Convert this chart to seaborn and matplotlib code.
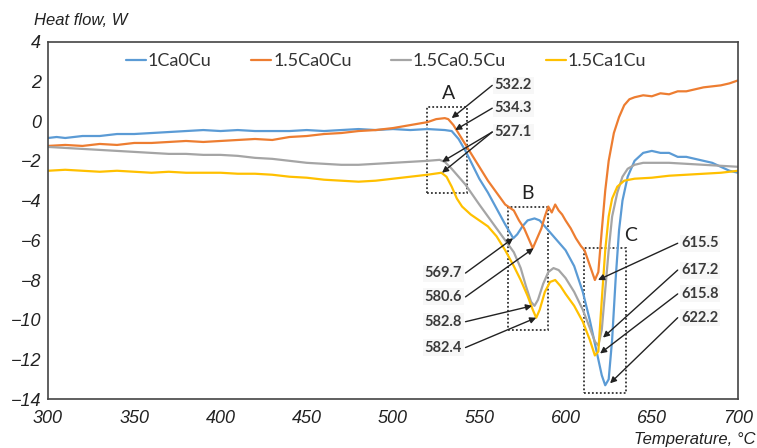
"""DSC heat flow curves for Ca/Cu alloyed samples."""

import matplotlib
matplotlib.use('Agg')
import matplotlib.pyplot as plt
import pandas as pd
import seaborn as sns
from matplotlib.patches import Rectangle

# --- data --------------------------------------------------------------------
temp_1ca0cu = [300, 305, 310, 320, 330, 340, 350, 360, 370, 380, 390, 400, 410, 420, 430,
               440, 450, 460, 470, 480, 490, 500, 510, 520, 530, 534, 538, 542, 546, 550,
               555, 560, 565, 569.7, 572, 575, 578, 582, 585, 588, 592, 596, 600, 605, 610,
               614, 618, 621, 623, 625, 627, 629, 631, 633, 636, 640, 645, 650, 655, 660,
               665, 670, 675, 680, 685, 690, 695, 700]
flow_1ca0cu = [-0.85, -0.8, -0.85, -0.75, -0.75, -0.65, -0.65, -0.6, -0.55, -0.5, -0.45, -0.5,
               -0.45, -0.5, -0.5, -0.5, -0.45, -0.5, -0.45, -0.4, -0.45, -0.4, -0.45, -0.4,
               -0.45, -0.5, -0.9, -1.5, -2.2, -2.9, -3.6, -4.4, -5.2, -5.9, -5.7, -5.3, -5.0,
               -4.9, -5.0, -5.3, -5.7, -6.1, -6.5, -7.3, -8.6, -10.0, -11.6, -12.8, -13.3,
               -13.0, -11.0, -8.0, -5.5, -4.0, -2.8, -2.0, -1.6, -1.5, -1.6, -1.6, -1.8, -1.8,
               -1.9, -2.0, -2.1, -2.3, -2.5, -2.6]

temp_15ca0cu = [300, 310, 320, 330, 340, 350, 360, 370, 380, 390, 400, 410, 420, 430, 440,
                450, 460, 470, 480, 490, 500, 510, 520, 525, 530, 532, 535, 540, 545, 550,
                555, 560, 565, 570, 573, 576, 579, 581, 583, 586, 588, 590, 592, 594, 596,
                598, 600, 603, 606, 609, 611, 613, 615, 617, 619, 621, 623, 625, 628, 631,
                634, 637, 640, 645, 650, 655, 660, 665, 670, 675, 680, 685, 690, 695, 700]
flow_15ca0cu = [-1.25, -1.2, -1.25, -1.15, -1.2, -1.1, -1.1, -1.05, -1.0, -1.05, -1.0, -0.95,
                -0.9, -0.95, -0.8, -0.75, -0.65, -0.6, -0.5, -0.45, -0.35, -0.2, -0.05, 0.1,
                0.15, 0.1, -0.2, -0.9, -1.6, -2.3, -3.0, -3.6, -4.2, -4.5, -5.0, -5.4, -6.0,
                -6.4, -6.0, -5.4, -4.8, -4.3, -4.6, -4.2, -4.5, -4.7, -5.0, -5.4, -5.9, -6.3,
                -6.5, -7.0, -7.5, -8.0, -7.6, -5.5, -3.5, -2.0, -0.6, 0.2, 0.8, 1.1, 1.2, 1.3,
                1.25, 1.4, 1.35, 1.5, 1.5, 1.6, 1.7, 1.75, 1.8, 1.9, 2.05]

temp_15ca05cu = [300, 310, 320, 330, 340, 350, 360, 370, 380, 390, 400, 410, 420, 430, 440,
                 450, 460, 470, 480, 490, 500, 510, 520, 527, 530, 534, 538, 542, 546, 550,
                 555, 560, 565, 570, 574, 577, 580, 582, 584, 587, 590, 593, 596, 600, 605,
                 610, 614, 617, 619, 621, 623, 625, 627, 630, 633, 636, 640, 645, 650, 660,
                 670, 680, 690, 700]
flow_15ca05cu = [-1.3, -1.35, -1.4, -1.45, -1.5, -1.55, -1.6, -1.65, -1.65, -1.7, -1.7, -1.75,
                 -1.85, -1.9, -2.0, -2.1, -2.15, -2.2, -2.2, -2.15, -2.1, -2.05, -2.0, -1.95,
                 -2.05, -2.4, -2.8, -3.2, -3.7, -4.2, -4.8, -5.4, -6.0, -6.6, -7.4, -8.3, -9.1,
                 -9.3, -9.0, -8.2, -7.6, -7.4, -7.5, -7.9, -8.6, -9.5, -10.4, -11.1, -11.3,
                 -10.5, -8.5, -6.5, -4.8, -3.6, -2.8, -2.4, -2.2, -2.1, -2.1, -2.1, -2.15, -2.2,
                 -2.25, -2.3]

temp_15ca1cu = [300, 310, 320, 330, 340, 350, 360, 370, 380, 390, 400, 410, 420, 430, 440,
                450, 460, 470, 480, 490, 500, 510, 520, 528, 531, 534, 537, 540, 545, 550,
                555, 560, 565, 570, 574, 578, 581, 583, 585, 588, 591, 594, 597, 600, 605,
                610, 614, 617, 619, 621, 623, 625, 627, 630, 634, 640, 650, 660, 670, 680,
                690, 700]
flow_15ca1cu = [-2.5, -2.45, -2.5, -2.55, -2.5, -2.55, -2.6, -2.55, -2.6, -2.6, -2.6, -2.65,
                -2.65, -2.7, -2.8, -2.85, -2.95, -3.0, -3.05, -3.0, -2.9, -2.8, -2.7, -2.6,
                -2.8, -3.3, -3.9, -4.3, -4.7, -5.0, -5.3, -5.8, -6.5, -7.3, -8.0, -8.8, -9.5,
                -9.9, -9.5, -8.6, -8.1, -8.0, -8.3, -8.7, -9.3, -10.1, -11.0, -11.8, -11.6,
                -9.0, -6.5, -4.8, -3.9, -3.3, -3.0, -2.9, -2.85, -2.75, -2.7, -2.65, -2.6, -2.5]

series_names = ["1Ca0Cu", "1.5Ca0Cu", "1.5Ca0.5Cu", "1.5Ca1Cu"]
series_colors = ["#5b9bd5", "#ed7d31", "#a5a5a5", "#ffc000"]

# peak labels: (text, text x, text y, [(arrow tip x, tip y), ...])
peak_labels_a = [("532.2", 559, 1.8, [(534, 0.15)]),
                 ("534.3", 559, 0.65, [(536, -0.45)]),
                 ("527.1", 559, -0.55, [(528.4, -2.05), (528.4, -2.6)])]
peak_labels_b = [("569.7", 540, -7.65, [(569.6, -5.9)]),
                 ("580.6", 540, -8.85, [(581.5, -6.4)]),
                 ("582.8", 540, -10.1, [(580.6, -9.3)]),
                 ("582.4", 540, -11.4, [(583, -9.9)])]
peak_labels_c = [("615.5", 667, -6.15, [(618.8, -8.0)]),
                 ("617.2", 667, -7.5, [(621.7, -10.9)]),
                 ("615.8", 667, -8.7, [(620, -11.7)]),
                 ("622.2", 667, -9.9, [(625.8, -13.2)])]

# dotted regions: (letter, x0, x1, y0, y1, letter x, letter y)
regions = [("A", 519.7, 543, -3.6, 0.7, 532, 1.4),
           ("B", 566.7, 590, -10.5, -4.3, 578, -3.65),
           ("C", 610.7, 635, -13.7, -6.4, 637.5, -5.75)]

# --- build table --------------------------------------------------------------
frames = []
for name, t, h in zip(series_names,
                      [temp_1ca0cu, temp_15ca0cu, temp_15ca05cu, temp_15ca1cu],
                      [flow_1ca0cu, flow_15ca0cu, flow_15ca05cu, flow_15ca1cu]):
    frames.append(pd.DataFrame({"temp": t, "flow": h, "sample": name}))
df = pd.concat(frames, ignore_index=True)

sns.set_theme(style="white")
plt.rcParams['font.family'] = ['Liberation Sans', 'DejaVu Sans']

fig = plt.figure(figsize=(7.57, 4.48), dpi=100)
ax = fig.add_axes([0.0634, 0.109, 0.9116, 0.798])

sns.lineplot(data=df, x="temp", y="flow", hue="sample", palette=series_colors,
             hue_order=series_names, estimator=None, linewidth=1.6, ax=ax)

ax.set_xlim(300, 700)
ax.set_ylim(-14, 4)
ax.set_xticks(range(300, 701, 50))
ax.set_yticks(range(-14, 5, 2))
ax.set_xlabel("")
ax.set_ylabel("")
for lab in ax.get_xticklabels() + ax.get_yticklabels():
    lab.set_fontstyle('italic')
ax.tick_params(direction='in', length=6, width=1.1, color='#333333',
               labelsize=13, labelcolor='#222222', pad=5)
ax.tick_params(axis='x', top=False, pad=8)
ax.tick_params(axis='y', right=False)
for sp in ax.spines.values():
    sp.set_color('#444444')
    sp.set_linewidth(1.2)

leg = ax.legend(loc='center', bbox_to_anchor=(0.49, 0.945), ncol=4, frameon=False,
                handlelength=1.1, handletextpad=0.1, columnspacing=2.2,
                prop={'family': 'Lato', 'size': 13})
for t in leg.get_texts():
    t.set_color('#333333')

# dotted boxes and letters
for letter, x0, x1, y0, y1, lx, ly in regions:
    ax.add_patch(Rectangle((x0, y0), x1 - x0, y1 - y0, fill=False,
                           linestyle=(0, (1, 1.2)), linewidth=1.3, edgecolor='#333333'))
    ax.text(lx, ly, letter, ha='center', va='center', fontsize=14,
            family='Lato', color='#222222')

# peak annotations
arrow = dict(arrowstyle='-|>', color='#222222', lw=1.0, mutation_scale=9,
             shrinkA=0, shrinkB=0)
for group, ha, dx in [(peak_labels_a, 'left', -1.5), (peak_labels_b, 'right', 2.0),
                      (peak_labels_c, 'left', -2.0)]:
    for text, tx, ty, tips in group:
        ax.text(tx, ty, text, ha=ha, va='center', fontsize=10.5, family='Lato',
                fontweight='bold', color='#3a3a3a',
                bbox=dict(boxstyle='square,pad=0.1', fc='#f7f7f7', ec='none'))
        for px, py in tips:
            ax.annotate("", xy=(px, py), xytext=(tx + dx, ty), arrowprops=arrow)

fig.text(0.045, 0.955, "Heat flow, W", fontsize=12, fontstyle='italic',
         color='#222222', ha='left', va='center')
fig.text(0.998, 0.02, "Temperature, °C", fontsize=12, fontstyle='italic',
         color='#222222', ha='right', va='center')

fig.savefig("out.png", dpi=100)
plt.close(fig)
